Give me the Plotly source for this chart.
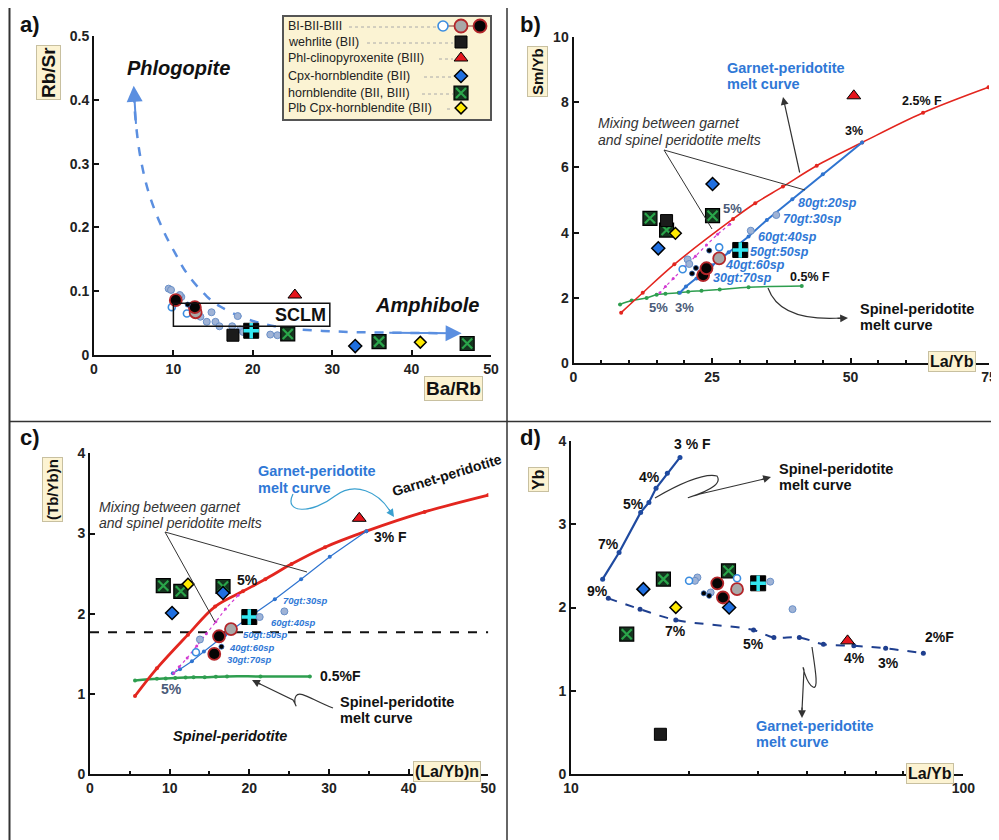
import plotly.graph_objects as go

FONT = "Liberation Sans, Arial, sans-serif"

# ---------------- Panel a: Ba/Rb vs Rb/Sr ----------------
a_blgrey_x = [9.4, 9.7, 11.0, 10.8, 13.4, 14.8, 14.2, 15.3, 15.8, 17.4, 18.1, 18.4, 18.8, 19.5, 22.2, 23.1]
a_blgrey_y = [0.104, 0.102, 0.091, 0.094, 0.060, 0.067, 0.052, 0.052, 0.045, 0.045, 0.061, 0.040, 0.036, 0.034, 0.032, 0.031]
a_open_x = [9.8, 11.7]
a_open_y = [0.075, 0.065]
a_bgrey_x = [12.8]
a_bgrey_y = [0.067]
a_bblack_x = [10.3, 12.7]
a_bblack_y = [0.086, 0.075]
a_sblack_x = [11.8]
a_sblack_y = [0.079]
a_wehr_x = [17.5]
a_wehr_y = [0.031]
a_cyan_x = [19.8]
a_cyan_y = [0.038]
a_hbl_x = [24.4, 35.9, 47.0]
a_hbl_y = [0.033, 0.021, 0.018]
a_tri_x = [25.3]
a_tri_y = [0.094]
a_cpx_x = [32.9]
a_cpx_y = [0.014]
a_plb_x = [41.1]
a_plb_y = [0.020]
a_trend_x = [5.0, 5.3, 5.9, 7.0, 8.7, 10.2, 11.7, 14.2, 15.9, 18.5, 21.0, 24.3, 30.2, 37.0, 45.7]
a_trend_y = [0.41, 0.36, 0.306, 0.25, 0.196, 0.16, 0.128, 0.092, 0.076, 0.060, 0.050, 0.042, 0.037, 0.035, 0.034]
a_sclm_box = [10.0, 29.7, 0.045, 0.081]

# ---------------- Panel b: La/Yb vs Sm/Yb ----------------
b_gt_x = [8.6, 12.5, 18.2, 28.8, 32.8, 37.8, 43.9, 52.1, 63.1, 74.9]
b_gt_y = [1.55, 2.16, 3.03, 4.42, 4.90, 5.41, 6.05, 6.76, 7.67, 8.45]
b_mix_x = [52.1, 45.0, 39.5, 34.9, 31.6, 28.0, 25.0, 22.2, 20.3, 19.2]
b_mix_y = [6.76, 5.79, 5.02, 4.39, 3.88, 3.40, 3.00, 2.60, 2.35, 2.16]
b_mag_x = [28.2, 26.0, 24.0, 22.0, 20.0, 18.0, 16.6, 15.6]
b_mag_y = [4.26, 3.95, 3.62, 3.28, 2.95, 2.60, 2.35, 2.16]
b_sp_x = [8.4, 10.5, 13.2, 15.0, 16.6, 19.0, 20.7, 23.1, 26.4, 31.6, 41.2]
b_sp_y = [1.80, 1.92, 2.00, 2.10, 2.13, 2.16, 2.19, 2.22, 2.26, 2.33, 2.37]
b_hbl_x = [13.8, 25.1, 16.8]
b_hbl_y = [4.44, 4.52, 4.08]
b_wehr_x = [16.8]
b_wehr_y = [4.37]
b_plb_x = [18.4]
b_plb_y = [3.98]
b_cpx_x = [25.1, 15.3]
b_cpx_y = [5.49, 3.52]
b_cyan_x = [30.1]
b_cyan_y = [3.47]
b_tri_x = [50.6]
b_tri_y = [8.19]
b_bblack_x = [23.4, 24.0]
b_bblack_y = [2.70, 2.91]
b_bgrey_x = [26.3]
b_bgrey_y = [3.21]
b_sblack_x = [24.5, 22.1, 21.4]
b_sblack_y = [3.45, 2.92, 2.75]
b_open_x = [26.3, 19.7]
b_open_y = [3.55, 2.88]
b_blgrey_x = [20.6, 20.9, 32.0, 36.6]
b_blgrey_y = [3.18, 3.04, 4.06, 4.54]

# ---------------- Panel c: (La/Yb)n vs (Tb/Yb)n ----------------
c_gt_x = [5.65, 8.4, 12.3, 15.7, 19.2, 22.0, 25.3, 29.5, 34.7, 42.0, 50.0]
c_gt_y = [0.976, 1.32, 1.74, 2.09, 2.28, 2.43, 2.62, 2.83, 3.03, 3.27, 3.48]
c_mix_x = [34.7, 30.1, 26.5, 23.2, 20.0, 17.0, 14.3, 12.8, 11.3, 10.4]
c_mix_y = [3.03, 2.71, 2.43, 2.18, 1.96, 1.74, 1.53, 1.41, 1.31, 1.26]
c_mag_x = [18.6, 17.0, 15.8, 14.6, 13.4, 12.2, 11.2, 10.5]
c_mag_y = [2.23, 2.06, 1.90, 1.75, 1.60, 1.45, 1.34, 1.26]
c_sp_x = [5.65, 8.4, 9.5, 10.7, 12.0, 13.0, 14.4, 15.8, 17.2, 21.4, 27.6]
c_sp_y = [1.17, 1.19, 1.195, 1.20, 1.205, 1.21, 1.21, 1.215, 1.22, 1.22, 1.22]
c_ref_y = [1.77, 1.77]
c_ref_x = [0, 50]
c_hbl_x = [9.2, 11.4, 16.7]
c_hbl_y = [2.35, 2.28, 2.34]
c_plb_x = [12.3]
c_plb_y = [2.37]
c_cpx_x = [10.3, 16.7]
c_cpx_y = [2.01, 2.26]
c_cyan_x = [20.0]
c_cyan_y = [1.96]
c_tri_x = [33.8]
c_tri_y = [3.19]
c_bblack_x = [16.2, 15.6]
c_bblack_y = [1.72, 1.50]
c_bgrey_x = [17.7]
c_bgrey_y = [1.81]
c_sblack_x = [16.5]
c_sblack_y = [1.59]
c_open_x = [13.3]
c_open_y = [1.52]
c_blgrey_x = [13.8, 21.3, 24.4]
c_blgrey_y = [1.68, 1.96, 2.03]

# ---------------- Panel d: La/Yb (log) vs Yb ----------------
d_sp_x = [18.96, 17.6, 16.47, 15.8, 15.05, 13.26, 12.04]
d_sp_y = [3.80, 3.61, 3.43, 3.26, 3.14, 2.66, 2.34]
d_gt_x = [12.45, 15.0, 18.5, 29.2, 32.9, 38.2, 44.0, 52.6, 63.4, 79.1]
d_gt_y = [2.11, 1.98, 1.85, 1.73, 1.64, 1.64, 1.56, 1.54, 1.51, 1.45]
d_hbl_x = [17.2, 25.2, 13.87]
d_hbl_y = [2.34, 2.44, 1.68]
d_cpx_x = [15.29, 25.3]
d_cpx_y = [2.22, 2.00]
d_plb_x = [18.5]
d_plb_y = [2.00]
d_wehr_x = [16.9]
d_wehr_y = [0.48]
d_cyan_x = [30.0]
d_cyan_y = [2.29]
d_tri_x = [50.7]
d_tri_y = [1.60]
d_bblack_x = [23.6, 24.4]
d_bblack_y = [2.29, 2.12]
d_bgrey_x = [26.5]
d_bgrey_y = [2.22]
d_open_x = [20.0, 26.5]
d_open_y = [2.32, 2.35]
d_blgrey_x = [21.0, 20.7, 22.7, 32.2, 36.7]
d_blgrey_y = [2.36, 2.32, 2.18, 2.31, 1.98]
d_sblack_x = [21.8, 22.5]
d_sblack_y = [2.17, 2.14]

# ---------------- tick labels ----------------
a_xticks = [0, 10, 20, 30, 40, 50]
a_yticks = [0, 0.1, 0.2, 0.3, 0.4, 0.5]
a_yticktext = ["0", "0.1", "0.2", "0.3", "0.4", "0.5"]
b_xticks = [0, 25, 50, 75]
b_yticks = [0, 2, 4, 6, 8, 10]
c_xticks = [0, 10, 20, 30, 40, 50]
c_yticks = [0, 1, 2, 3, 4]
d_xticks = [10, 100]
d_yticks = [0, 1, 2, 3, 4]

legend_labels = ["BI-BII-BIII", "wehrlite (BII)", "Phl-clinopyroxenite (BIII)",
                 "Cpx-hornblendite (BII)", "hornblendite (BII, BIII)", "Plb Cpx-hornblendite (BII)"]

# ---------------- styles ----------------
RED = "#e3261f"
BLUE = "#2f74d0"
MAG = "#d23bd2"
GRN = "#2e9e4f"
LBL = "#2f78d6"
SLATE = "#4a5a78"

STY = {
    "blgrey": [dict(symbol="circle", size=7, color="#9fb3d6", line=dict(color="#6a90c8", width=1))],
    "open": [dict(symbol="circle", size=7, color="white", line=dict(color="#3b8de0", width=1.6))],
    "bgrey": [dict(symbol="circle", size=12, color="#a8a8a8", line=dict(color="#b3262a", width=1.8))],
    "bblack": [dict(symbol="circle", size=12, color="#050505", line=dict(color="#b3262a", width=1.8))],
    "sblack": [dict(symbol="circle", size=5, color="#000", line=dict(color="#2a5fb0", width=0.8))],
    "wehr": [dict(symbol="square", size=12, color="#1b1b1b", line=dict(color="#000", width=1))],
    "tri": [dict(symbol="triangle-up", size=12, color="#e5161d", line=dict(color="#000", width=1))],
    "cpx": [dict(symbol="diamond", size=10, color="#1f6fe0", line=dict(color="#000", width=1.5))],
    "hbl": [dict(symbol="square", size=14, color="#15351f", line=dict(color="#000", width=1.2)),
            dict(symbol="x-thin", size=10, color="#2aa64a", line=dict(color="#2aa64a", width=2.2))],
    "plb": [dict(symbol="diamond", size=9, color="#ffea00", line=dict(color="#000", width=1.5))],
    "cyan": [dict(symbol="square", size=15, color="#000", line=dict(color="#000", width=1)),
             dict(symbol="cross-thin", size=11, color="#33e6f0", line=dict(color="#33e6f0", width=3.5))],
}

# page body has an 8px margin: the figure is drawn 8px in from the window corner
OFF = 8
W, H = 999 - OFF, 840 - OFF


def dx(px):
    return (px - OFF) / W


def dy(py):
    return 1 - (py - OFF) / H


fig = go.Figure()


def pts(xs, ys, style, xa, ya):
    for m in STY[style]:
        fig.add_trace(go.Scatter(x=xs, y=ys, mode="markers", marker=m, xaxis=xa, yaxis=ya,
                                 showlegend=False, hoverinfo="skip"))


def curve(xs, ys, color, width, xa, ya, dash="solid", msize=4, shape="spline"):
    fig.add_trace(go.Scatter(x=xs, y=ys, mode="lines+markers" if msize else "lines",
                             line=dict(color=color, width=width, dash=dash, shape=shape),
                             marker=dict(size=msize, color=color), xaxis=xa, yaxis=ya,
                             showlegend=False, hoverinfo="skip"))


# Panel a
curve(a_trend_x, a_trend_y, "#5b8fe0", 2.5, "x", "y", dash="dash", msize=0)
pts(a_blgrey_x, a_blgrey_y, "blgrey", "x", "y")
pts(a_open_x, a_open_y, "open", "x", "y")
pts(a_bgrey_x, a_bgrey_y, "bgrey", "x", "y")
pts(a_bblack_x, a_bblack_y, "bblack", "x", "y")
pts(a_sblack_x, a_sblack_y, "sblack", "x", "y")
pts(a_wehr_x, a_wehr_y, "wehr", "x", "y")
pts(a_cyan_x, a_cyan_y, "cyan", "x", "y")
pts(a_hbl_x, a_hbl_y, "hbl", "x", "y")
pts(a_tri_x, a_tri_y, "tri", "x", "y")
pts(a_cpx_x, a_cpx_y, "cpx", "x", "y")
pts(a_plb_x, a_plb_y, "plb", "x", "y")

# Panel b
curve(b_sp_x, b_sp_y, GRN, 1.5, "x2", "y2")
curve(b_gt_x, b_gt_y, RED, 1.6, "x2", "y2")
curve(b_mix_x, b_mix_y, BLUE, 2, "x2", "y2", shape="linear")
curve(b_mag_x, b_mag_y, MAG, 1.2, "x2", "y2", dash="dot", msize=3, shape="linear")
pts(b_hbl_x, b_hbl_y, "hbl", "x2", "y2")
pts(b_wehr_x, b_wehr_y, "wehr", "x2", "y2")
pts(b_plb_x, b_plb_y, "plb", "x2", "y2")
pts(b_cpx_x, b_cpx_y, "cpx", "x2", "y2")
pts(b_cyan_x, b_cyan_y, "cyan", "x2", "y2")
pts(b_tri_x, b_tri_y, "tri", "x2", "y2")
pts(b_blgrey_x, b_blgrey_y, "blgrey", "x2", "y2")
pts(b_open_x, b_open_y, "open", "x2", "y2")
pts(b_bgrey_x, b_bgrey_y, "bgrey", "x2", "y2")
pts(b_bblack_x, b_bblack_y, "bblack", "x2", "y2")
pts(b_sblack_x, b_sblack_y, "sblack", "x2", "y2")

# Panel c
fig.add_trace(go.Scatter(x=c_ref_x, y=c_ref_y, mode="lines", line=dict(color="#111", width=2, dash="dash"),
                         xaxis="x3", yaxis="y3", showlegend=False, hoverinfo="skip"))
curve(c_sp_x, c_sp_y, GRN, 2.5, "x3", "y3", msize=4)
curve(c_gt_x, c_gt_y, RED, 2.8, "x3", "y3", msize=4)
curve(c_mix_x, c_mix_y, BLUE, 1.2, "x3", "y3", shape="linear")
curve(c_mag_x, c_mag_y, MAG, 1.2, "x3", "y3", dash="dot", msize=3, shape="linear")
pts(c_hbl_x, c_hbl_y, "hbl", "x3", "y3")
pts(c_plb_x, c_plb_y, "plb", "x3", "y3")
pts(c_cpx_x, c_cpx_y, "cpx", "x3", "y3")
pts(c_cyan_x, c_cyan_y, "cyan", "x3", "y3")
pts(c_tri_x, c_tri_y, "tri", "x3", "y3")
pts(c_blgrey_x, c_blgrey_y, "blgrey", "x3", "y3")
pts(c_open_x, c_open_y, "open", "x3", "y3")
pts(c_bgrey_x, c_bgrey_y, "bgrey", "x3", "y3")
pts(c_bblack_x, c_bblack_y, "bblack", "x3", "y3")
pts(c_sblack_x, c_sblack_y, "sblack", "x3", "y3")

# Panel d
curve(d_sp_x, d_sp_y, "#1f4aa0", 2.2, "x4", "y4", msize=5, shape="linear")
curve(d_gt_x, d_gt_y, "#1f3f8f", 2, "x4", "y4", dash="dash", msize=5)
pts(d_hbl_x, d_hbl_y, "hbl", "x4", "y4")
pts(d_cpx_x, d_cpx_y, "cpx", "x4", "y4")
pts(d_plb_x, d_plb_y, "plb", "x4", "y4")
pts(d_wehr_x, d_wehr_y, "wehr", "x4", "y4")
pts(d_cyan_x, d_cyan_y, "cyan", "x4", "y4")
pts(d_tri_x, d_tri_y, "tri", "x4", "y4")
pts(d_blgrey_x, d_blgrey_y, "blgrey", "x4", "y4")
pts(d_open_x, d_open_y, "open", "x4", "y4")
pts(d_bgrey_x, d_bgrey_y, "bgrey", "x4", "y4")
pts(d_bblack_x, d_bblack_y, "bblack", "x4", "y4")
pts(d_sblack_x, d_sblack_y, "sblack", "x4", "y4")

# ---------------- legend (pixel overlay axis x5/y5) ----------------
leg_rows = [26, 42, 58, 76, 93, 108]
leg_styles = [None, "wehr", "tri", "cpx", "hbl", "plb"]
fig.add_trace(go.Scatter(x=[443, 480], y=[26, 26], mode="lines", line=dict(color="#8a3030", width=1.2),
                         xaxis="x5", yaxis="y5", showlegend=False, hoverinfo="skip"))
for st, xx in zip(["open", "bgrey", "bblack"], [443, 461, 480]):
    for m in STY[st]:
        mm = dict(m)
        mm["size"] = 10 if st == "open" else 13
        fig.add_trace(go.Scatter(x=[xx], y=[26], mode="markers", marker=mm, xaxis="x5", yaxis="y5",
                                 showlegend=False, hoverinfo="skip"))
for st, yy in zip(leg_styles[1:], leg_rows[1:]):
    for m in STY[st]:
        fig.add_trace(go.Scatter(x=[461], y=[yy], mode="markers", marker=m, xaxis="x5", yaxis="y5",
                                 showlegend=False, hoverinfo="skip"))

shapes = []
annots = []

# frame / dividers
shapes += [
    dict(type="line", xref="x5", yref="y5", x0=9, y0=5.5, x1=999, y1=5.5, line=dict(color="#333", width=2)),
    dict(type="line", xref="x5", yref="y5", x0=9.5, y0=5, x1=9.5, y1=840, line=dict(color="#333", width=2)),
    dict(type="line", xref="x5", yref="y5", x0=507, y0=5, x1=507, y1=840, line=dict(color="#333", width=1.5)),
    dict(type="line", xref="x5", yref="y5", x0=9, y0=421.5, x1=999, y1=421.5, line=dict(color="#333", width=1.5)),
]

# legend box
shapes.append(dict(type="rect", xref="x5", yref="y5", x0=283, y0=16, x1=491, y1=120,
                   fillcolor="#fbf3d3", line=dict(color="#555", width=2), layer="below"))
leg_text_end = [346, 364, 436, 421, 419, 444]
for yy, xe, i in zip(leg_rows, leg_text_end, range(6)):
    x_end = 436 if i == 0 else 453
    shapes.append(dict(type="line", xref="x5", yref="y5", x0=xe + 3, y0=yy + 1, x1=x_end, y1=yy + 1,
                       line=dict(color="#aaa", width=1, dash="dot")))
    annots.append(dict(xref="x5", yref="y5", x=286, y=yy, text=legend_labels[i], showarrow=False,
                       xanchor="left", yanchor="middle", font=dict(family=FONT, size=12.5, color="#222")))

# SCLM box (data coords)
shapes.append(dict(type="rect", xref="x", yref="y", x0=a_sclm_box[0], x1=a_sclm_box[1],
                   y0=a_sclm_box[2], y1=a_sclm_box[3], line=dict(color="#111", width=1.5)))


def txt(x, y, t, size=14, color="#111", bold=True, italic=False, anchor="center", angle=0):
    annots.append(dict(xref="x5", yref="y5", x=x, y=y, text=t, showarrow=False, xanchor=anchor,
                       yanchor="middle", textangle=angle,
                       font=dict(family=FONT, size=size, color=color,
                                 weight="bold" if bold else "normal",
                                 style="italic" if italic else "normal")))


def axtitle(x, y, t, size, angle=0):
    annots.append(dict(xref="x5", yref="y5", x=x, y=y, text="<b>" + t + "</b>", showarrow=False,
                       textangle=angle, bgcolor="#fcf3d2", bordercolor="#c8c0a0", borderwidth=1,
                       borderpad=1, font=dict(family=FONT, size=size, color="#111")))


def arrowhead(x, y, ax, ay, color="#333", width=1.2):
    annots.append(dict(xref="x5", yref="y5", axref="x5", ayref="y5", x=x, y=y, ax=ax, ay=ay, text="",
                       showarrow=True, arrowhead=2, arrowsize=1.3, arrowwidth=width, arrowcolor=color))


def path(d, color="#333", width=1.2):
    shapes.append(dict(type="path", xref="x5", yref="y5", path=d, line=dict(color=color, width=width)))


def seg(x0, y0, x1, y1, color="#333", width=1):
    shapes.append(dict(type="line", xref="x5", yref="y5", x0=x0, y0=y0, x1=x1, y1=y1,
                       line=dict(color=color, width=width)))


# panel labels
txt(30, 24, "a)", 22)
txt(530, 24, "b)", 22)
txt(30, 437, "c)", 22)
txt(530, 437, "d)", 22)

# axis titles
axtitle(48, 73, "Rb/Sr", 19, -90)
axtitle(453, 388, "Ba/Rb", 19)
axtitle(537, 72, "Sm/Yb", 15, -90)
axtitle(952, 361, "La/Yb", 16)
axtitle(52, 490, "(Tb/Yb)n", 15, -90)
axtitle(447, 771, "(La/Yb)n", 16)
axtitle(538, 480, "Yb", 16, -90)
axtitle(930, 773, "La/Yb", 16)

# panel a texts and arrows
txt(178, 68, "Phlogopite", 20, italic=True)
txt(427, 305, "Amphibole", 20, italic=True)
annots.append(dict(xref="x", yref="y", x=26.0, y=0.0627, text="<b>SCLM</b>", showarrow=False,
                   font=dict(family=FONT, size=18, color="#111")))
annots.append(dict(xref="x", yref="y", axref="x", ayref="y", x=a_trend_x[0], y=a_trend_y[0] + 0.012,
                   ax=a_trend_x[1], ay=a_trend_y[1], text="", showarrow=True, arrowhead=2,
                   arrowsize=1.6, arrowwidth=2, arrowcolor="#5b8fe0"))
annots.append(dict(xref="x", yref="y", axref="x", ayref="y", x=a_trend_x[-1] + 0.6, y=a_trend_y[-1],
                   ax=a_trend_x[-2], ay=a_trend_y[-2], text="", showarrow=True, arrowhead=2,
                   arrowsize=1.6, arrowwidth=2, arrowcolor="#5b8fe0"))

# panel b texts
txt(725, 68, "Garnet-peridotite", 14.5, LBL, anchor="left")
txt(725, 84, "melt curve", 14.5, LBL, anchor="left")
txt(596, 123, "Mixing between garnet", 14, "#333", bold=False, italic=True, anchor="left")
txt(596, 140, "and spinel peridotite melts", 14, "#333", bold=False, italic=True, anchor="left")
txt(922, 101, "2.5% F", 12.5)
txt(854, 131, "3%", 12.5)
txt(732, 208, "5%", 13, SLATE)
txt(810, 277, "0.5% F", 12.5)
txt(658, 307, "5%", 13, SLATE)
txt(684, 307, "3%", 13, SLATE)
txt(858, 309, "Spinel-peridotite", 14.5, anchor="left")
txt(858, 325, "melt curve", 14.5, anchor="left")
for (xx, yy, t) in [(827, 203, "80gt:20sp"), (812, 219, "70gt:30sp"), (787, 237, "60gt:40sp"),
                    (779, 252, "50gt:50sp"), (755, 265, "40gt:60sp"), (742, 278, "30gt:70sp")]:
    txt(xx, yy, t, 12.5, LBL, italic=True)
seg(664, 150, 712, 229)
seg(664, 150, 805, 190)
arrowhead(783, 97, 800, 174)
path("M 768,288 Q 780,322 842,318")
arrowhead(848, 318, 836, 318.5)

# panel c texts
txt(256, 471, "Garnet-peridotite", 14.5, LBL, anchor="left")
txt(256, 488, "melt curve", 14.5, LBL, anchor="left")
txt(447, 475, "Garnet-peridotite", 14, angle=-17)
txt(97, 507, "Mixing between garnet", 14, "#333", bold=False, italic=True, anchor="left")
txt(97, 523, "and spinel peridotite melts", 14, "#333", bold=False, italic=True, anchor="left")
txt(390, 537, "3% F", 14)
txt(247, 580, "5%", 14)
txt(318, 676, "0.5%F", 14, anchor="left")
txt(171, 689, "5%", 14, SLATE)
txt(338, 702, "Spinel-peridotite", 14.5, anchor="left")
txt(338, 718, "melt curve", 14.5, anchor="left")
txt(230, 736, "Spinel-peridotite", 14.5, italic=True)
for (xx, yy, t) in [(305, 600, "70gt:30sp"), (293, 622, "60gt:40sp"), (265, 634, "50gt:50sp"),
                    (252, 647, "40gt:60sp"), (249, 659, "30gt:70sp")]:
    txt(xx, yy, t, 9.5, LBL, italic=True)
seg(165, 532, 215, 622)
seg(165, 532, 307, 572)
path("M 293,494 C 283,514 312,514 335,496 C 355,481 378,492 390,511", color="#3aa0d0", width=1.2)
arrowhead(394, 517, 388, 508, color="#3aa0d0")
path("M 333,708 C 312,700 300,690 296,696 C 292,703 300,712 293,700 L 258,683")
arrowhead(252, 680, 262, 685)

# panel d texts
txt(692, 444, "3 % F", 14)
txt(649, 477, "4%", 14)
txt(633, 504, "5%", 14)
txt(608, 544, "7%", 14)
txt(597, 591, "9%", 14)
txt(675, 631, "7%", 14)
txt(753, 644, "5%", 14)
txt(854, 658, "4%", 14)
txt(888, 663, "3%", 14)
txt(939, 637, "2%F", 14)
txt(777, 469, "Spinel-peridotite", 14.5, anchor="left")
txt(777, 485, "melt curve", 14.5, anchor="left")
txt(754, 726, "Garnet-peridotite", 14.5, LBL, anchor="left")
txt(754, 742, "melt curve", 14.5, LBL, anchor="left")
path("M 655,498 Q 700,472 717,476 Q 724,486 690,497 Q 684,499 700,494 L 764,479")
arrowhead(771, 477, 760, 480)
path("M 812,647 C 815,668 819,690 813,687 C 806,684 801,660 804,670 L 802,710")
arrowhead(802, 718, 802, 706)

# ---------------- axes ----------------
tickfont = dict(family=FONT, size=14, color="#222", weight="bold")
base = dict(showgrid=False, zeroline=False, showline=True, linecolor="#111", linewidth=2,
            ticks="inside", ticklen=5, tickwidth=1.5, tickcolor="#111", tickfont=tickfont,
            fixedrange=True, automargin=False)

layout = dict(
    width=W, height=H, margin=dict(l=0, r=0, t=0, b=0, pad=0, autoexpand=False), autosize=False,
    paper_bgcolor="white", plot_bgcolor="rgba(0,0,0,0)", showlegend=False,
    xaxis=dict(base, domain=[dx(94), dx(491)], range=[0, 50], tickvals=a_xticks, anchor="y"),
    yaxis=dict(base, domain=[dy(355), dy(36)], range=[0, 0.5], tickvals=a_yticks,
               ticktext=a_yticktext, anchor="x"),
    xaxis2=dict(base, domain=[dx(573.5), dx(989)], range=[0, 75], tickvals=b_xticks, anchor="y2",
                minor=dict(ticks="inside", ticklen=3, dtick=5, tickcolor="#111")),
    yaxis2=dict(base, domain=[dy(363.3), dy(36.7)], range=[0, 10], tickvals=b_yticks, anchor="x2"),
    xaxis3=dict(base, domain=[dx(90), dx(488.3)], range=[0, 50], tickvals=c_xticks, anchor="y3",
                minor=dict(ticks="inside", ticklen=3, dtick=5, tickcolor="#111")),
    yaxis3=dict(base, domain=[dy(774.3), dy(453.3)], range=[0, 4], tickvals=c_yticks, anchor="x3"),
    xaxis4=dict(base, type="log", domain=[dx(571), dx(963.3)], range=[1, 2], tickvals=d_xticks,
                anchor="y4",
                minor=dict(ticks="inside", ticklen=3, tickvals=[20, 30, 40, 50, 60, 70, 80, 90],
                           tickcolor="#111")),
    yaxis4=dict(base, domain=[dy(774.3), dy(440.7)], range=[0, 4], tickvals=d_yticks, anchor="x4"),
    xaxis5=dict(domain=[0, 1], range=[OFF, 999], visible=False, anchor="y5", fixedrange=True,
                automargin=False),
    yaxis5=dict(domain=[0, 1], range=[840, OFF], visible=False, anchor="x5", fixedrange=True,
                automargin=False),
    shapes=shapes, annotations=annots,
)
fig.update_layout(**layout)
fig.write_html("out.html", config={"responsive": False})
